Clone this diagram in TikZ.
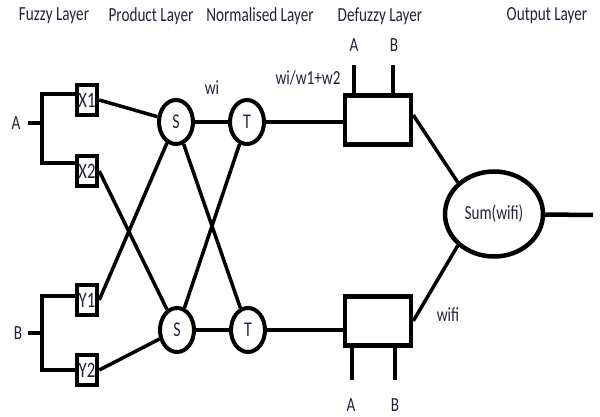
\documentclass[tikz,border=0pt]{standalone}
\usepackage{fontspec}
\setmainfont{Carlito}[FakeStretch=0.76]
\usetikzlibrary{positioning, shapes}
\definecolor{ink}{RGB}{32,36,58}

\begin{document}
\begin{tikzpicture}[x=1pt, y=1pt, font=\fontsize{20}{24}\selectfont,
    every node/.style={inner sep=1pt, text=ink},
    mf/.style={rectangle, draw, line width=4.5pt, minimum width=20pt, minimum height=30pt, inner sep=0pt, font=\fontsize{22}{24}\selectfont},
    prod/.style={ellipse, draw, line width=4pt, minimum width=34pt, minimum height=44pt, inner sep=0pt, font=\fontsize{21}{24}\selectfont},
    defz/.style={rectangle, draw, line width=4.5pt, minimum width=66pt, minimum height=49pt},
    wire/.style={line width=3.5pt},
    fork/.style={line width=4.5pt}]
    \useasboundingbox (0,0) rectangle (600,-417);

    % layer titles
    \node (tFuzzy) at (54,-16) {Fuzzy Layer};
    \node (tProd) at (151,-16) {Product Layer};
    \node (tNorm) at (260,-16) {Normalised Layer};
    \node (tDefz) at (380,-16) {Defuzzy Layer};
    \node (tOut) at (547,-16) {Output Layer};

    % inputs and membership boxes
    \node (lA) at (16,-123) {A};
    \node (lB) at (18,-333) {B};
    \coordinate (ja) at (42,-123);
    \coordinate (jb) at (42,-333);
    \node (X1) [mf] at (87,-100) {X1};
    \node (X2) [mf] at (87,-171) {X2};
    \node (Y1) [mf] at (87,-300) {Y1};
    \node (Y2) [mf] at (87,-370) {Y2};

    \draw[fork, shorten <=6pt] (lA.east) -- (ja);
    \draw[fork] ([yshift=6pt]X1.west) -| (ja) |- ([yshift=8pt]X2.west);
    \draw[fork, shorten <=5pt] (lB.east) -- (jb);
    \draw[fork] ([yshift=4pt]Y1.west) -| (jb) |- (Y2.west);

    % product and normalising nodes
    \node (S1) [prod] at (176,-122) {S};
    \node (S2) [prod] at (177,-330) {S};
    \node (T1) [prod] at (247,-122) {T};
    \node (T2) [prod] at (248,-330) {T};
    \node (wi) at (212,-88) {wi};

    \draw[wire] (X1.east) -- (S1);
    \draw[wire] (X2.east) -- (S2);
    \draw[wire] (Y1.east) -- (S1);
    \draw[wire] (Y2.east) -- (S2);
    \draw[fork] (S1) -- (T1);
    \draw[fork] (S2) -- (T2);
    \draw[wire] (S1) -- (T2);
    \draw[wire] (S2) -- (T1);

    % defuzzy boxes with their A/B inputs
    \node (D1) [defz] at (378,-120) {};
    \node (D2) [defz] at (378,-321) {};
    \node (wn) at (308,-78) {wi/w1+w2};
    \node (dA1) at (354,-45) {A};
    \node (dB1) at (394,-45) {B};
    \node (dA2) at (351,-405) {A};
    \node (dB2) at (395,-405) {B};
    \coordinate (pA1) at (354,-65);
    \coordinate (pB1) at (393,-65);
    \coordinate (pA2) at (352,-380);
    \coordinate (pB2) at (395,-380);

    \draw[fork] (T1) -- (T1 -| D1.west);
    \draw[fork] (T2) -- (T2 -| D2.west);
    \draw[wire] (pA1) -- (pA1 |- D1.north);
    \draw[wire] (pB1) -- (pB1 |- D1.north);
    \draw[wire] (pA2) -- (pA2 |- D2.south);
    \draw[wire] (pB2) -- (pB2 |- D2.south);

    % output sum
    \node (Sum) [ellipse, draw, line width=4.5pt, minimum width=98pt, minimum height=85pt, inner sep=0pt] at (494,-214) {Sum(wifi)};
    \node (wf) at (448,-315) {wifi};
    \coordinate (out) at (593,-215);

    \draw[wire] ([yshift=5pt]D1.east) -- (Sum.north west);
    \draw[wire] (D2.east) -- (Sum.south west);
    \draw[fork] (Sum) -- (out);
\end{tikzpicture}
\end{document}
